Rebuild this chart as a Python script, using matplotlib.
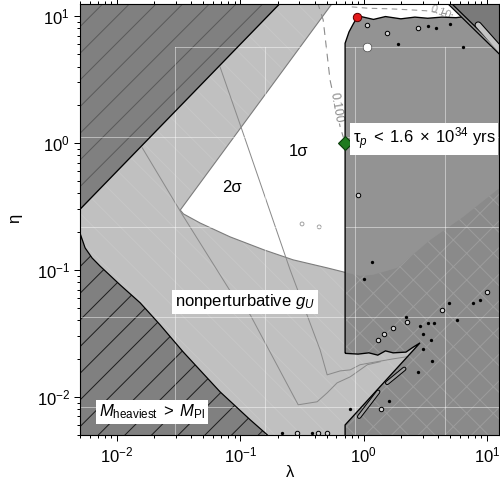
import numpy as np
import matplotlib
matplotlib.use("Agg")
import matplotlib.pyplot as plt
from matplotlib.patches import Polygon, Rectangle

plt.rcParams['font.family'] = ['Liberation Sans', 'DejaVu Sans']
plt.rcParams['mathtext.fontset'] = 'custom'
plt.rcParams['mathtext.rm'] = 'Liberation Sans'
plt.rcParams['mathtext.it'] = 'Liberation Sans:italic'
plt.rcParams['mathtext.bf'] = 'Liberation Sans:bold'
plt.rcParams['hatch.linewidth'] = 0.9

# ---- axis ranges -------------------------------------------------------
lam_range = [0.005, 12.5]
eta_range = [0.005, 12.4]

# ---- allowed (2 sigma) region: upper edge, tip, lower edge -------------
sig2_lam = [0.66, 0.0325, 0.0345, 0.0471, 0.0824, 0.1556, 0.267, 0.505,
            0.733, 0.935, 1.19, 1.87, 3.46, 6.40, 12.1, 14.0]
sig2_eta = [15.8, 0.296, 0.276, 0.234, 0.182, 0.1436, 0.120, 0.1037,
            0.0947, 0.0897, 0.0914, 0.1037, 0.172, 0.261, 0.427, 0.475]

# ---- 1 sigma contour -----------------------------------------------------
sig1_lam = [0.0684, 0.103, 0.253, 0.443, 0.505, 0.644, 0.776, 0.935, 1.28, 1.73, 2.25]
sig1_eta = [3.96, 1.265, 0.100, 0.0234, 0.0149, 0.0160, 0.0163, 0.0179, 0.0189, 0.0199, 0.0207]

# ---- outer contour through the nonperturbative band ----------------------
outer_lam = [0.0160, 0.0343, 0.0824, 0.120, 0.294, 0.419, 0.505, 0.608, 0.776, 1.07, 1.36]
outer_eta = [0.914, 0.266, 0.0684, 0.0443, 0.00865, 0.00914, 0.01074, 0.01288, 0.01436, 0.0179, 0.0189]

# ---- upper-left excluded wedge (eta ~ 60 lambda) ------------------------
ul_lam = [0.004, 0.25, 0.004]
ul_eta = [0.24, 15.0, 15.0]

# ---- M_heaviest > M_Pl boundary -----------------------------------------
mpl_lam = [0.0048, 0.0050, 0.0055, 0.00627, 0.00728, 0.01057, 0.01538, 0.0223,
           0.0343, 0.0684, 0.120, 0.165, 0.18]
mpl_eta = [0.24, 0.195, 0.149, 0.124, 0.107, 0.0762, 0.0550, 0.0369,
           0.0226, 0.01094, 0.00659, 0.00502, 0.0045]

# ---- top-right excluded corner ------------------------------------------
tr_lam = [4.6, 14.0, 14.0]
tr_eta = [13.5, 4.69, 13.5]
pill_lam = [8.47, 13.5]
pill_eta = [8.49, 5.1]

# ---- proton-decay excluded region ---------------------------------------
pd_lam = [0.706, 0.706, 0.76, 0.83, 0.88, 0.95, 1.2, 1.5, 2.0, 2.6, 3.3, 4.3, 5.6,
          6.4, 14.0, 14.0, 0.706, 0.706, 2.86, 2.5, 2.2, 1.73, 1.5, 1.3, 1.1, 0.9]
pd_eta = [0.022, 6.1, 7.5, 8.8, 9.6, 9.9, 9.4, 9.9, 9.5, 9.8, 9.6, 9.8, 9.7,
          9.86, 4.69, 0.004, 0.004, 0.0060, 0.0266, 0.0245, 0.0225, 0.0222,
          0.0230, 0.0213, 0.0222, 0.0217]

# thin slivers along the diagonal edge
sliver1_lam, sliver1_eta = [0.918, 1.31], [0.00697, 0.01094]
sliver2_lam, sliver2_eta = [1.55, 2.13], [0.01288, 0.0166]

# ---- tau_p = 0.100 contour ------------------------------------------------
tau_lam = [0.42, 0.469, 0.533, 0.644, 0.706]
tau_eta = [13.0, 9.3, 3.13, 1.337, 1.0]
tau2_lam = [0.80, 1.1, 1.6, 2.3, 3.2, 4.4, 5.3]
tau2_eta = [11.8, 11.5, 11.4, 11.2, 11.0, 10.5, 10.2]

# ---- benchmark points ----------------------------------------------------
bench_lam, bench_eta = [0.706], [1.0]
red_lam, red_eta = [0.88], [9.8]

# ---- scan artefacts (isolated islands) ------------------------------------
dots_lam = [1.90, 3.33, 3.87, 5.02, 6.40, 1.17, 1.01, 2.21, 2.87, 3.33, 3.72, 3.03,
            3.52, 3.03, 3.59, 2.76, 1.61, 5.72, 4.93, 7.71, 8.79, 0.776, 0.218, 0.381]
dots_eta = [6.03, 8.34, 8.05, 8.65, 5.70, 0.1156, 0.0849, 0.0427, 0.0362, 0.0383,
            0.0383, 0.0313, 0.0281, 0.0239, 0.0192, 0.0157, 0.0093, 0.0404, 0.0550,
            0.0550, 0.0581, 0.00805, 0.00521, 0.00521]
rings_lam = [1.07, 1.55, 2.76, 2.25, 1.73, 1.31, 1.46, 4.32, 10.0, 0.288, 0.427, 0.505, 1.38, 0.902]
rings_eta = [8.49, 7.35, 8.05, 0.039, 0.0349, 0.0281, 0.0313, 0.0484, 0.0672,
             0.00521, 0.00521, 0.00521, 0.00805, 0.390]
hole_lam, hole_eta = [1.07], [5.70]
faint_lam, faint_eta = [0.316, 0.435], [0.230, 0.218]

# reference lines of the underlying scan grid
grid_lam = [0.0295, 0.158, 0.851, 4.57]
grid_eta = [5.70, 1.114, 0.218, 0.0427, 0.00834]

# ---- colours --------------------------------------------------------------
c_light = '#c0c0c0'
c_dark = '#808080'
c_pd = '#939393'
c_pd_low = '#8a8a8a'

fig = plt.figure(figsize=(6.25, 6.1625), dpi=80)
ax = fig.add_axes([0.16, 0.1176, 0.838, 0.874])
ax.set_xscale('log')
ax.set_yscale('log')
ax.set_xlim(*lam_range)
ax.set_ylim(*eta_range)
ax.set_facecolor(c_light)

# faint stripes on the nonperturbative background
ax.add_patch(Rectangle((0, 0), 1, 1, transform=ax.transAxes, facecolor='none',
                       edgecolor='#c7c7c7', lw=0, hatch='\\', zorder=0.5))


def region(lam, eta, face, z, hatch=None, hatch_color=None):
    pts = np.column_stack([lam, eta])
    p = Polygon(pts, closed=True, facecolor=face, edgecolor='none', lw=0, zorder=z)
    ax.add_patch(p)
    h = None
    if hatch:
        h = Polygon(pts, closed=True, facecolor='none', edgecolor=hatch_color,
                    lw=0, hatch=hatch, zorder=z + 0.01)
        ax.add_patch(h)
    return p, h


# allowed region
region(sig2_lam + [14.0], sig2_eta + [15.8], 'white', 1)
ax.plot(sig2_lam, sig2_eta, color='#7c7c7c', lw=1.0, zorder=1.5)
ax.plot(sig1_lam, sig1_eta, color='#8a8a8a', lw=0.9, zorder=1.5)
ax.plot(outer_lam, outer_eta, color='#8a8a8a', lw=0.9, zorder=1.5)
ax.plot(tau_lam, tau_eta, color='#8c8c8c', lw=1.0, ls=(0, (7, 5)), zorder=1.6)
ax.plot(tau2_lam, tau2_eta, color='#9a9a9a', lw=1.0, ls=(0, (5, 4)), zorder=1.6)
ax.text(0.597, 1.89, '0.100', rotation=-80, ha='center', va='center',
        color='#8a8a8a', fontsize=11, zorder=1.7,
        bbox=dict(facecolor='white', edgecolor='none', pad=0.5))
ax.text(4.2, 10.7, '0.10', rotation=-22, ha='center', va='center',
        color='#9a9a9a', fontsize=10, zorder=1.7)
ax.scatter(faint_lam, faint_eta, s=12, facecolor='none', edgecolor='#9a9a9a',
           lw=0.8, zorder=1.7)

# proton-decay excluded region
pd_patch, _ = region(pd_lam, pd_eta, c_pd, 2)
low_lam = sig2_lam[7:] + [14.0, 0.505]
low_eta = sig2_eta[7:] + [0.003, 0.003]
lp, lh = region(low_lam, low_eta, c_pd_low, 2.05, hatch='x', hatch_color='#9c9c9c')
lp.set_clip_path(pd_patch)
lh.set_clip_path(pd_patch)
ax.add_patch(Polygon(np.column_stack([pd_lam, pd_eta]), closed=True,
                     facecolor='none', edgecolor='black', lw=1.2, zorder=4))
for sl, se in [(sliver1_lam, sliver1_eta), (sliver2_lam, sliver2_eta)]:
    ax.plot(sl, se, color='black', lw=4.0, solid_capstyle='round', zorder=4.1)
    ax.plot(sl, se, color='#a0a0a0', lw=2.2, solid_capstyle='round', zorder=4.2)

# excluded wedges
region(ul_lam, ul_eta, c_dark, 2, hatch='/', hatch_color='#5a5a5a')
ax.plot(ul_lam[:2], ul_eta[:2], color='black', lw=1.2, zorder=4)
region(mpl_lam + [0.004], mpl_eta + [0.004], c_dark, 2, hatch='/', hatch_color='#1e1e1e')
ax.plot(mpl_lam, mpl_eta, color='black', lw=1.1, zorder=4)
region(tr_lam, tr_eta, '#7a7a7a', 2)
ax.plot(tr_lam[:2], tr_eta[:2], color='black', lw=3.6, zorder=4)
ax.plot(tr_lam[:2], tr_eta[:2], color='#8e8e8e', lw=1.4, zorder=4.1)
ax.plot(pill_lam, pill_eta, color='black', lw=6.5, solid_capstyle='round', zorder=4)
ax.plot(pill_lam, pill_eta, color='#c4c4c4', lw=4.6, solid_capstyle='round', zorder=4.1)

# scan grid
for g in grid_lam:
    ax.plot([g, g], [0.004, grid_eta[0]], color='white', alpha=0.45, lw=0.9, zorder=3)
ax.plot([grid_lam[0], 14], [grid_eta[0]] * 2, color='white', alpha=0.45, lw=0.9, zorder=3)
for g in grid_eta[1:]:
    ax.plot([0.004, 14], [g, g], color='white', alpha=0.45, lw=0.9, zorder=3)

# islands and markers
ax.scatter(dots_lam, dots_eta, s=9, color='black', lw=0, zorder=5)
ax.scatter(rings_lam, rings_eta, s=16, facecolor='#d5d5d5', edgecolor='black',
           lw=0.9, zorder=5)
ax.scatter(hole_lam, hole_eta, s=60, facecolor='white', edgecolor='#444444',
           lw=0.6, zorder=5)
ax.plot(bench_lam, bench_eta, marker='D', ms=8.5, color='#1f7a1f',
        mec='#0a3a0a', mew=1.0, ls='none', zorder=6)
ax.plot(red_lam, red_eta, marker='o', ms=7.5, color='#e41a1c',
        mec='#5a0000', mew=0.9, ls='none', zorder=6)

# labels
box = dict(facecolor='white', edgecolor='none', pad=2.5)
ax.text(0.294, 0.849, '1σ', ha='center', va='center', fontsize=15, zorder=7)
ax.text(0.0857, 0.443, '2σ', ha='center', va='center', fontsize=15, zorder=7)
ax.text(0.815, 1.07, r'τ$_p\;<\;1.6\;\times\;10^{34}$ yrs', ha='left', va='center',
        fontsize=15, bbox=box, zorder=7)
ax.text(0.109, 0.056, r'nonperturbative $g_U$', ha='center', va='center',
        fontsize=15, bbox=box, zorder=7)
ax.text(0.0192, 0.0076, r'$M_{\rm heaviest}\;>\;M_{\rm Pl}$', ha='center',
        va='center', fontsize=15, bbox=box, zorder=7)

# axes styling
ax.set_xlabel('λ', fontsize=15)
ax.set_ylabel('η', fontsize=15)
ax.xaxis.set_label_coords(0.501, -0.07)
ax.yaxis.set_label_coords(-0.138, 0.503)
ax.tick_params(which='both', direction='out', top=True, right=True,
               labelsize=15, width=0.9)
ax.tick_params(which='major', length=5.5)
ax.tick_params(which='minor', length=3)
for s in ax.spines.values():
    s.set_linewidth(1.0)
    s.set_zorder(8)

fig.savefig('out.png', dpi=80)
